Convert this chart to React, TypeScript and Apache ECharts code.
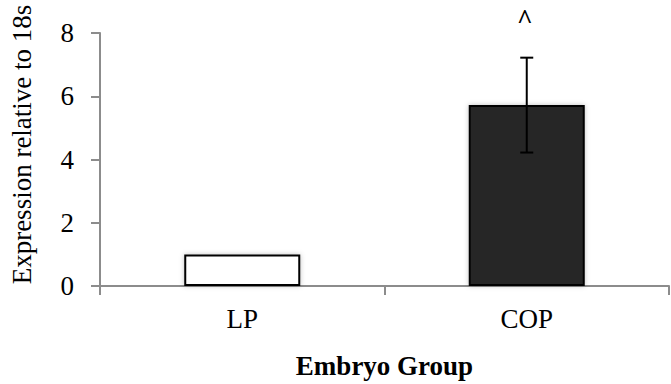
import React, { useEffect, useRef } from "react";
import * as echarts from "echarts";

const categories = ["LP", "COP"];
const values = [1.0, 5.72];
const errors = [0, 1.5];
const significance = ["", "^"];
const barColors = ["#ffffff", "#262626"];
const yTicks = { min: 0, max: 8, interval: 2 };

const FONT = "'Liberation Serif', 'Times New Roman', serif";

export default function App() {
  const ref = useRef<HTMLDivElement>(null);
  useEffect(() => {
    if (!ref.current) return;
    const chart = echarts.init(ref.current, null, { renderer: "svg" });
    chart.setOption({
      animation: false,
      grid: { left: 96, right: 2, top: 33, bottom: 93, containLabel: false },
      xAxis: {
        type: "category",
        data: categories,
        name: "Embryo Group",
        nameLocation: "middle",
        nameGap: 66,
        nameTextStyle: { fontFamily: FONT, fontSize: 27, fontWeight: "bold", color: "#000" },
        axisLine: { lineStyle: { color: "#8c8c8c", width: 2 } },
        axisTick: { show: true, length: 9, lineStyle: { color: "#8c8c8c", width: 2 }, alignWithLabel: false },
        axisLabel: { fontFamily: FONT, fontSize: 27, color: "#000", margin: 19 },
      },
      yAxis: {
        type: "value",
        min: yTicks.min,
        max: yTicks.max,
        interval: yTicks.interval,
        name: "Expression relative to 18s",
        nameLocation: "middle",
        nameGap: 65,
        nameTextStyle: { fontFamily: FONT, fontSize: 27, color: "#000", padding: [0, 0, 0, 30] },
        axisLine: { show: true, lineStyle: { color: "#8c8c8c", width: 2 } },
        axisTick: { show: true, length: 9, lineStyle: { color: "#8c8c8c", width: 2 } },
        axisLabel: { fontFamily: FONT, fontSize: 27, color: "#000", margin: 26 },
        splitLine: { show: false },
      },
      series: [
        {
          type: "bar",
          barWidth: 116,
          data: values.map((v, i) => ({
            value: v,
            itemStyle: {
              color: barColors[i],
              borderColor: "#000",
              borderWidth: 2,
              shadowColor: "rgba(0,0,0,0.25)",
              shadowBlur: 5,
            },
          })),
        },
        {
          type: "custom",
          z: 5,
          data: values.map((v, i) => [i, v, errors[i]]),
          renderItem: (params: any, api: any) => {
            const i = api.value(0);
            const v = api.value(1);
            const e = api.value(2);
            const sig = significance[params.dataIndex];
            const children: any[] = [];
            const top = api.coord([i, v + e]);
            const bot = api.coord([i, v - e]);
            if (e > 0) {
              const s = { stroke: "#000", lineWidth: 2 };
              children.push({ type: "line", shape: { x1: top[0], y1: top[1], x2: bot[0], y2: bot[1] }, style: s });
              children.push({ type: "line", shape: { x1: top[0] - 6.5, y1: top[1], x2: top[0] + 6.5, y2: top[1] }, style: s });
              children.push({ type: "line", shape: { x1: bot[0] - 6.5, y1: bot[1], x2: bot[0] + 6.5, y2: bot[1] }, style: s });
            }
            if (sig) {
              children.push({
                type: "text",
                style: {
                  text: sig,
                  x: top[0] - 2,
                  y: top[1] - 52,
                  align: "center",
                  verticalAlign: "top",
                  font: `bold 27px ${FONT}`,
                  fill: "#000",
                },
              });
            }
            return { type: "group", children };
          },
        },
      ],
    });
    return () => chart.dispose();
  }, []);
  return <div ref={ref} style={{ width: 671, height: 384, position: "absolute", left: 0, top: 0 }} />;
}
